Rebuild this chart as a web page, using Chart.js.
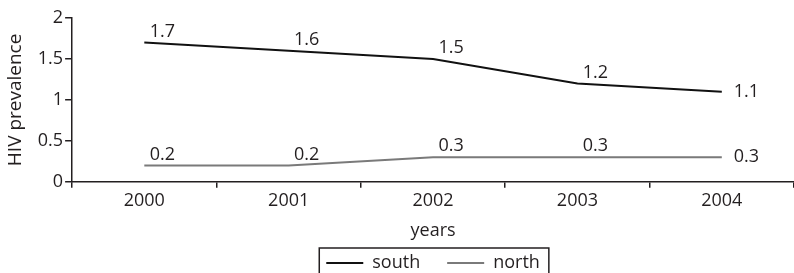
<!DOCTYPE html>
<html>
<head>
<meta charset="utf-8">
<script src="https://cdn.jsdelivr.net/npm/chart.js@4.4.1/dist/chart.umd.min.js"></script>
<style>
  html, body { margin: 0; padding: 0; background: #fff; }
</style>
</head>
<body>
<canvas id="hiv-chart" width="794" height="273"></canvas>
<script>
const years = ["2000", "2001", "2002", "2003", "2004"];
const south = [1.7, 1.6, 1.5, 1.2, 1.1];
const north = [0.2, 0.2, 0.3, 0.3, 0.3];
const seriesNames = ["south", "north"];

const ink = "#231f20";
const fontFamily = "'Open Sans', sans-serif";
const fontSize = 18;

// numbers next to each point; the last one sits to the right of the line end
const pointLabels = {
  id: "pointLabels",
  afterDatasetsDraw(chart) {
    const ctx = chart.ctx;
    ctx.save();
    ctx.font = fontSize + "px " + fontFamily;
    ctx.fillStyle = ink;
    ctx.textBaseline = "middle";
    chart.data.datasets.forEach((ds, i) => {
      const meta = chart.getDatasetMeta(i);
      meta.data.forEach((pt, j) => {
        const last = j === meta.data.length - 1;
        ctx.textAlign = last ? "left" : "center";
        const x = last ? pt.x + 12 : pt.x + 18;
        const y = last ? pt.y : pt.y - 11;
        ctx.fillText(String(ds.data[j]), x, y);
      });
    });
    ctx.restore();
  }
};

// thin frame round the legend items
const legendFrame = {
  id: "legendFrame",
  afterDraw(chart) {
    const boxes = chart.legend && chart.legend.legendHitBoxes;
    if (!boxes || !boxes.length) return;
    const left = Math.min(...boxes.map(b => b.left)) - 7;
    const right = Math.max(...boxes.map(b => b.left + b.width)) + 9;
    const top = Math.min(...boxes.map(b => b.top)) - 6;
    const ctx = chart.ctx;
    ctx.save();
    ctx.strokeStyle = ink;
    ctx.lineWidth = 1.5;
    ctx.strokeRect(left, top, right - left, chart.height + 10 - top);
    ctx.restore();
  }
};

new Chart(document.getElementById("hiv-chart"), {
  type: "line",
  data: {
    labels: years,
    datasets: [
      { label: seriesNames[0], data: south, borderColor: "#111", backgroundColor: "#111", borderWidth: 2 },
      { label: seriesNames[1], data: north, borderColor: "#7a7a7a", backgroundColor: "#7a7a7a", borderWidth: 2 }
    ]
  },
  options: {
    responsive: false,
    animation: false,
    layout: { padding: { top: 18, right: 0, left: 4, bottom: -9 } },
    elements: { point: { radius: 0 }, line: { tension: 0 } },
    plugins: {
      tooltip: { enabled: false },
      legend: {
        position: "bottom",
        fullSize: false,
        labels: {
          color: ink,
          font: { family: fontFamily, size: fontSize },
          usePointStyle: true,
          pointStyle: "line",
          pointStyleWidth: 37,
          padding: 27
        }
      }
    },
    scales: {
      x: {
        offset: true,
        grid: { offset: true, drawOnChartArea: false, drawTicks: true, tickLength: 6, color: ink, lineWidth: 1.5 },
        border: { color: ink, width: 1.5 },
        ticks: { color: ink, font: { family: fontFamily, size: fontSize }, padding: 2 },
        title: { display: true, text: "years", color: ink, font: { family: fontFamily, size: fontSize }, padding: { top: 7, bottom: -15 } }
      },
      y: {
        min: 0,
        max: 2,
        grid: { drawOnChartArea: false, drawTicks: true, tickLength: 7, color: ink, lineWidth: 1.5 },
        border: { color: ink, width: 1.5 },
        ticks: { stepSize: 0.5, color: ink, font: { family: fontFamily, size: fontSize }, padding: 2, callback: v => String(v) },
        title: { display: true, text: "HIV prevalence", color: ink, font: { family: fontFamily, size: 19 }, padding: { top: 0, bottom: 9 } }
      }
    }
  },
  plugins: [pointLabels, legendFrame]
});
</script>
</body>
</html>
